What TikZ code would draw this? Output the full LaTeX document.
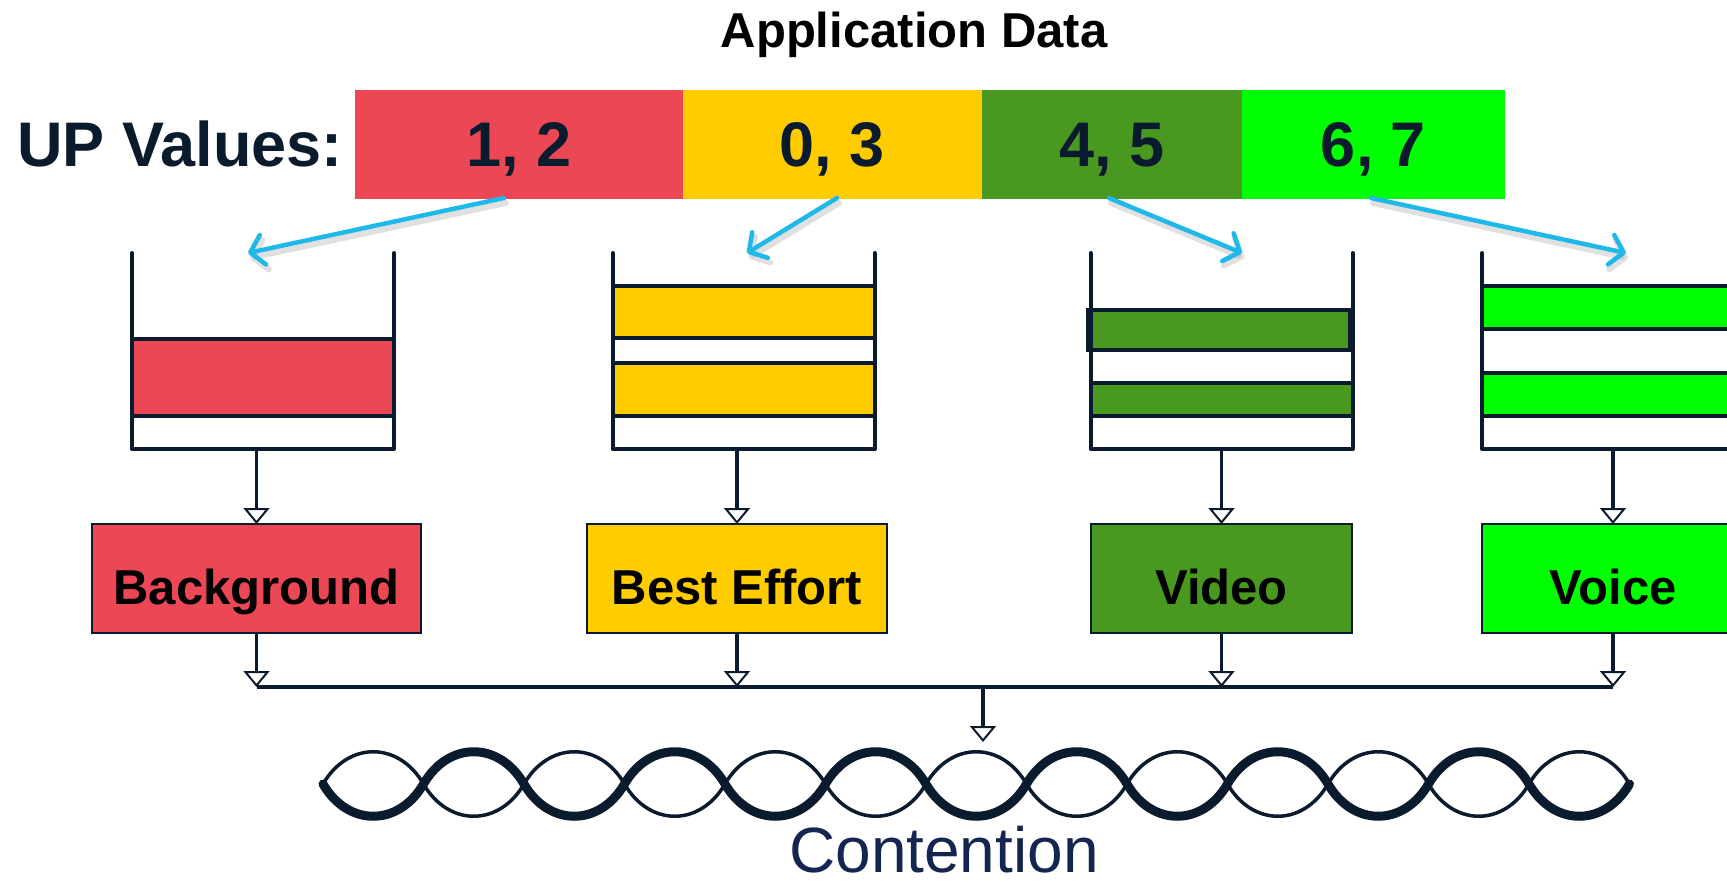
\documentclass[tikz,border=0pt]{standalone}
\usepackage{fontspec}
\setmainfont{Liberation Sans}
\usetikzlibrary{arrows.meta}
\definecolor{cred}{RGB}{236,71,85}
\definecolor{cyel}{RGB}{255,204,0}
\definecolor{cdgreen}{RGB}{73,152,32}
\definecolor{cgreen}{RGB}{0,255,0}
\definecolor{navy}{RGB}{11,27,46}
\definecolor{cnavy}{RGB}{20,38,80}
\definecolor{ccyan}{RGB}{30,184,233}
\begin{document}
\begin{tikzpicture}[x=1pt,y=-1pt,
  seg/.style={minimum width=#1, minimum height=109pt, inner sep=0pt, outer sep=0pt,
    text depth=0pt, text=navy, font=\fontsize{63}{70}\selectfont\bfseries},
  qnode/.style={minimum width=262pt, minimum height=196pt, inner sep=0pt, outer sep=0pt},
  wall/.style={draw=navy, line width=4pt, line cap=round, line join=round},
  band/.style={draw=navy, line width=4pt},
  qbox/.style={draw=navy, line width=1.5pt, minimum width=#1, minimum height=109pt, inner sep=0pt, outer sep=0pt},
  boxtext/.style={anchor=base, inner sep=0pt, text=black, font=\fontsize{49}{55}\selectfont\bfseries},
  flow/.style={draw=navy, line width=3.5pt, -{Triangle[length=16pt,width=26pt,fill=white,line width=2pt]}},
  busline/.style={draw=navy, line width=3.5pt},
  barrow/.style={draw=ccyan, line width=4.5pt, line cap=round, -{Straight Barb[round,length=13pt,width=30pt]}},
  bshadow/.style={draw=black!35, opacity=0.35, line width=6pt, line cap=round, -{Straight Barb[round,length=13pt,width=30pt]}},
  thick strand/.style={draw=navy, line width=9pt, line cap=round, line join=round},
  thin strand/.style={draw=navy, line width=3.5pt, line cap=round, line join=round}
]
\useasboundingbox (0,0) rectangle (1727,882);
\clip (0,0) rectangle (1727,882);

% title
\node[anchor=base, inner sep=0pt, text=black, font=\fontsize{49}{55}\selectfont\bfseries] (title) at (914,48) {Application Data};
\node[anchor=base west, inner sep=0pt, text=navy, font=\fontsize{63}{70}\selectfont\bfseries] (up) at (17,167) {UP Values:};

% UP value bar
\node[seg=328pt, fill=cred] (s1) at (519,144.5) {1, 2};
\node[seg=299pt, fill=cyel] (s2) at (832.5,144.5) {0, 3};
\node[seg=260pt, fill=cdgreen] (s3) at (1112,144.5) {4, 5};
\node[seg=263pt, fill=cgreen] (s4) at (1373.5,144.5) {6, 7};

% queues
\node[qnode] (q1) at (263,351) {};
\node[qnode] (q2) at (743.5,351) {};
\node[qnode] (q3) at (1221.5,351) {};
\node[qnode] (q4) at (1613,351) {};

\draw[band, fill=cred] (132,339) rectangle (394,416);
\draw[band, fill=cyel] (612.5,286) rectangle (874.5,338);
\draw[band, fill=cyel] (612.5,363) rectangle (874.5,416);
\draw[band, fill=cdgreen] (1088,310) rectangle (1350,350);
\draw[band, fill=cdgreen] (1090.5,383) rectangle (1352.5,416);
\draw[band, fill=cgreen] (1482,286) rectangle (1744,329);
\draw[band, fill=cgreen] (1482,373) rectangle (1744,416);

\foreach \q in {q1,q2,q3,q4}{
  \draw[wall] (\q.north west) -- (\q.south west) -- (\q.south east) -- (\q.north east);
}

% blue arrows
\coordinate (a1s) at (504,198); \coordinate (a1e) at (248,253);
\coordinate (a2s) at (837,198); \coordinate (a2e) at (747,253);
\coordinate (a3s) at (1109,198); \coordinate (a3e) at (1242,253);
\coordinate (a4s) at (1371,198); \coordinate (a4e) at (1626,253);
\foreach \i in {1,2,3,4}{
  \draw[bshadow] ([shift={(2,5)}]a\i s) -- ([shift={(2,5)}]a\i e);
}
\foreach \i in {1,2,3,4}{
  \draw[barrow] (a\i s) -- (a\i e);
}

% AC boxes
\node[qbox=329pt, fill=cred] (bg) at (256.5,578.5) {};
\node[qbox=300pt, fill=cyel] (be) at (737,578.5) {};
\node[qbox=261pt, fill=cdgreen] (vid) at (1221.5,578.5) {};
\node[qbox=262pt, fill=cgreen] (voi) at (1613,578.5) {};
\node[boxtext] (bgt) at (256.5,604) {Background};
\node[boxtext] (bet) at (737,604) {Best Effort};
\node[boxtext] (vidt) at (1221.5,604) {Video};
\node[boxtext] (voit) at (1613,604) {Voice};

% queue -> box
\draw[flow] (bg.north |- q1.south) -- (bg.north);
\draw[flow] (be.north |- q2.south) -- (be.north);
\draw[flow] (vid.north |- q3.south) -- (vid.north);
\draw[flow] (voi.north |- q4.south) -- (voi.north);

% box -> bus
\coordinate (bus) at (0,687);
\draw[busline] (bg.south |- bus) -- (voi.south |- bus);
\draw[flow] (bg.south) -- (bg.south |- bus);
\draw[flow] (be.south) -- (be.south |- bus);
\draw[flow] (vid.south) -- (vid.south |- bus);
\draw[flow] (voi.south) -- (voi.south |- bus);

% bus -> contention
\coordinate (busmid) at (983,687);
\coordinate (ropein) at (983,742);
\draw[flow] (busmid) -- (ropein);

% twisted rope (13 half twists)
\draw[thin strand] (323,784)
  \foreach \k [evaluate=\k as \s using {2*mod(\k,2)-1}] in {0,...,12}{
    .. controls ({323+100.5*\k+25},{784+43*\s}) and ({323+100.5*\k+75.5},{784+43*\s}) .. ({323+100.5*(\k+1)},784)
  };
\draw[thick strand] (323,784)
  \foreach \k [evaluate=\k as \s using {1-2*mod(\k,2)}] in {0,...,12}{
    .. controls ({323+100.5*\k+25},{784+43*\s}) and ({323+100.5*\k+75.5},{784+43*\s}) .. ({323+100.5*(\k+1)},784)
  };

\node[anchor=base, inner sep=0pt, text=cnavy, font=\fontsize{64}{70}\selectfont] (cont) at (944,872) {Contention};
\end{tikzpicture}
\end{document}
